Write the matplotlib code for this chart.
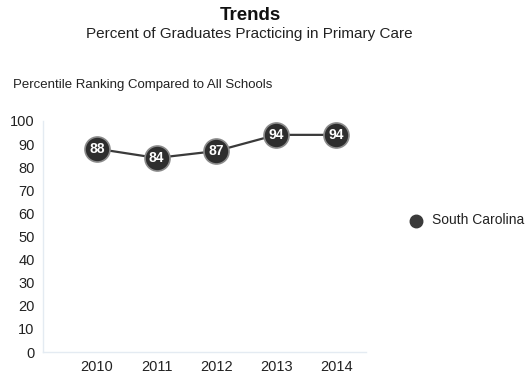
import matplotlib
matplotlib.use("Agg")
import matplotlib.pyplot as plt

plt.rcParams["font.family"] = ["Liberation Sans", "DejaVu Sans"]

years = [2010, 2011, 2012, 2013, 2014]
values = [88, 84, 87, 94, 94]
series_name = "South Carolina"

fig = plt.figure(figsize=(5.31, 3.77), dpi=100)
ax = fig.add_axes([43 / 531, 25 / 377, 323 / 531, 231 / 377])

ax.plot(years, values, color="#3a3a3a", lw=1.6, zorder=2)
ax.plot(years, values, ls="none", marker="o", ms=18, mfc="#2e2e2e",
        mec="#8a8a8a", mew=1.2, zorder=3)
for x, v in zip(years, values):
    ax.text(x, v, str(v), ha="center", va="center", color="white",
            fontsize=10, weight="bold", zorder=4)

ax.set_xlim(2009.1, 2014.5)
ax.set_ylim(0, 100)
ax.set_yticks(range(0, 101, 10))
ax.set_xticks(years)
ax.tick_params(length=0, labelsize=10.5, colors="#222222")
ax.tick_params(axis="y", pad=6)
ax.tick_params(axis="x", pad=6)
for side in ("top", "right"):
    ax.spines[side].set_visible(False)
for side in ("left", "bottom"):
    ax.spines[side].set_color("#e4ebf2")
    ax.spines[side].set_linewidth(1.0)

fig.text(250 / 531, 1 - 15 / 377, "Trends", ha="center", va="center",
         fontsize=13.5, weight="bold", color="#111111")
fig.text(249 / 531, 1 - 34 / 377, "Percent of Graduates Practicing in Primary Care",
         ha="center", va="center", fontsize=11, color="#222222")
fig.text(13 / 531, 1 - 85 / 377, "Percentile Ranking Compared to All Schools",
         ha="left", va="center", fontsize=9.5, color="#222222")

# legend
fig.lines.append(plt.Line2D([416 / 531], [1 - 221 / 377], transform=fig.transFigure,
                            ls="none", marker="o", ms=9, mfc="#3a3a3a", mec="#3a3a3a"))
fig.text(432 / 531, 1 - 220 / 377, series_name, ha="left", va="center",
         fontsize=10, color="#222222")

fig.savefig("out.png", dpi=100, facecolor="white")
